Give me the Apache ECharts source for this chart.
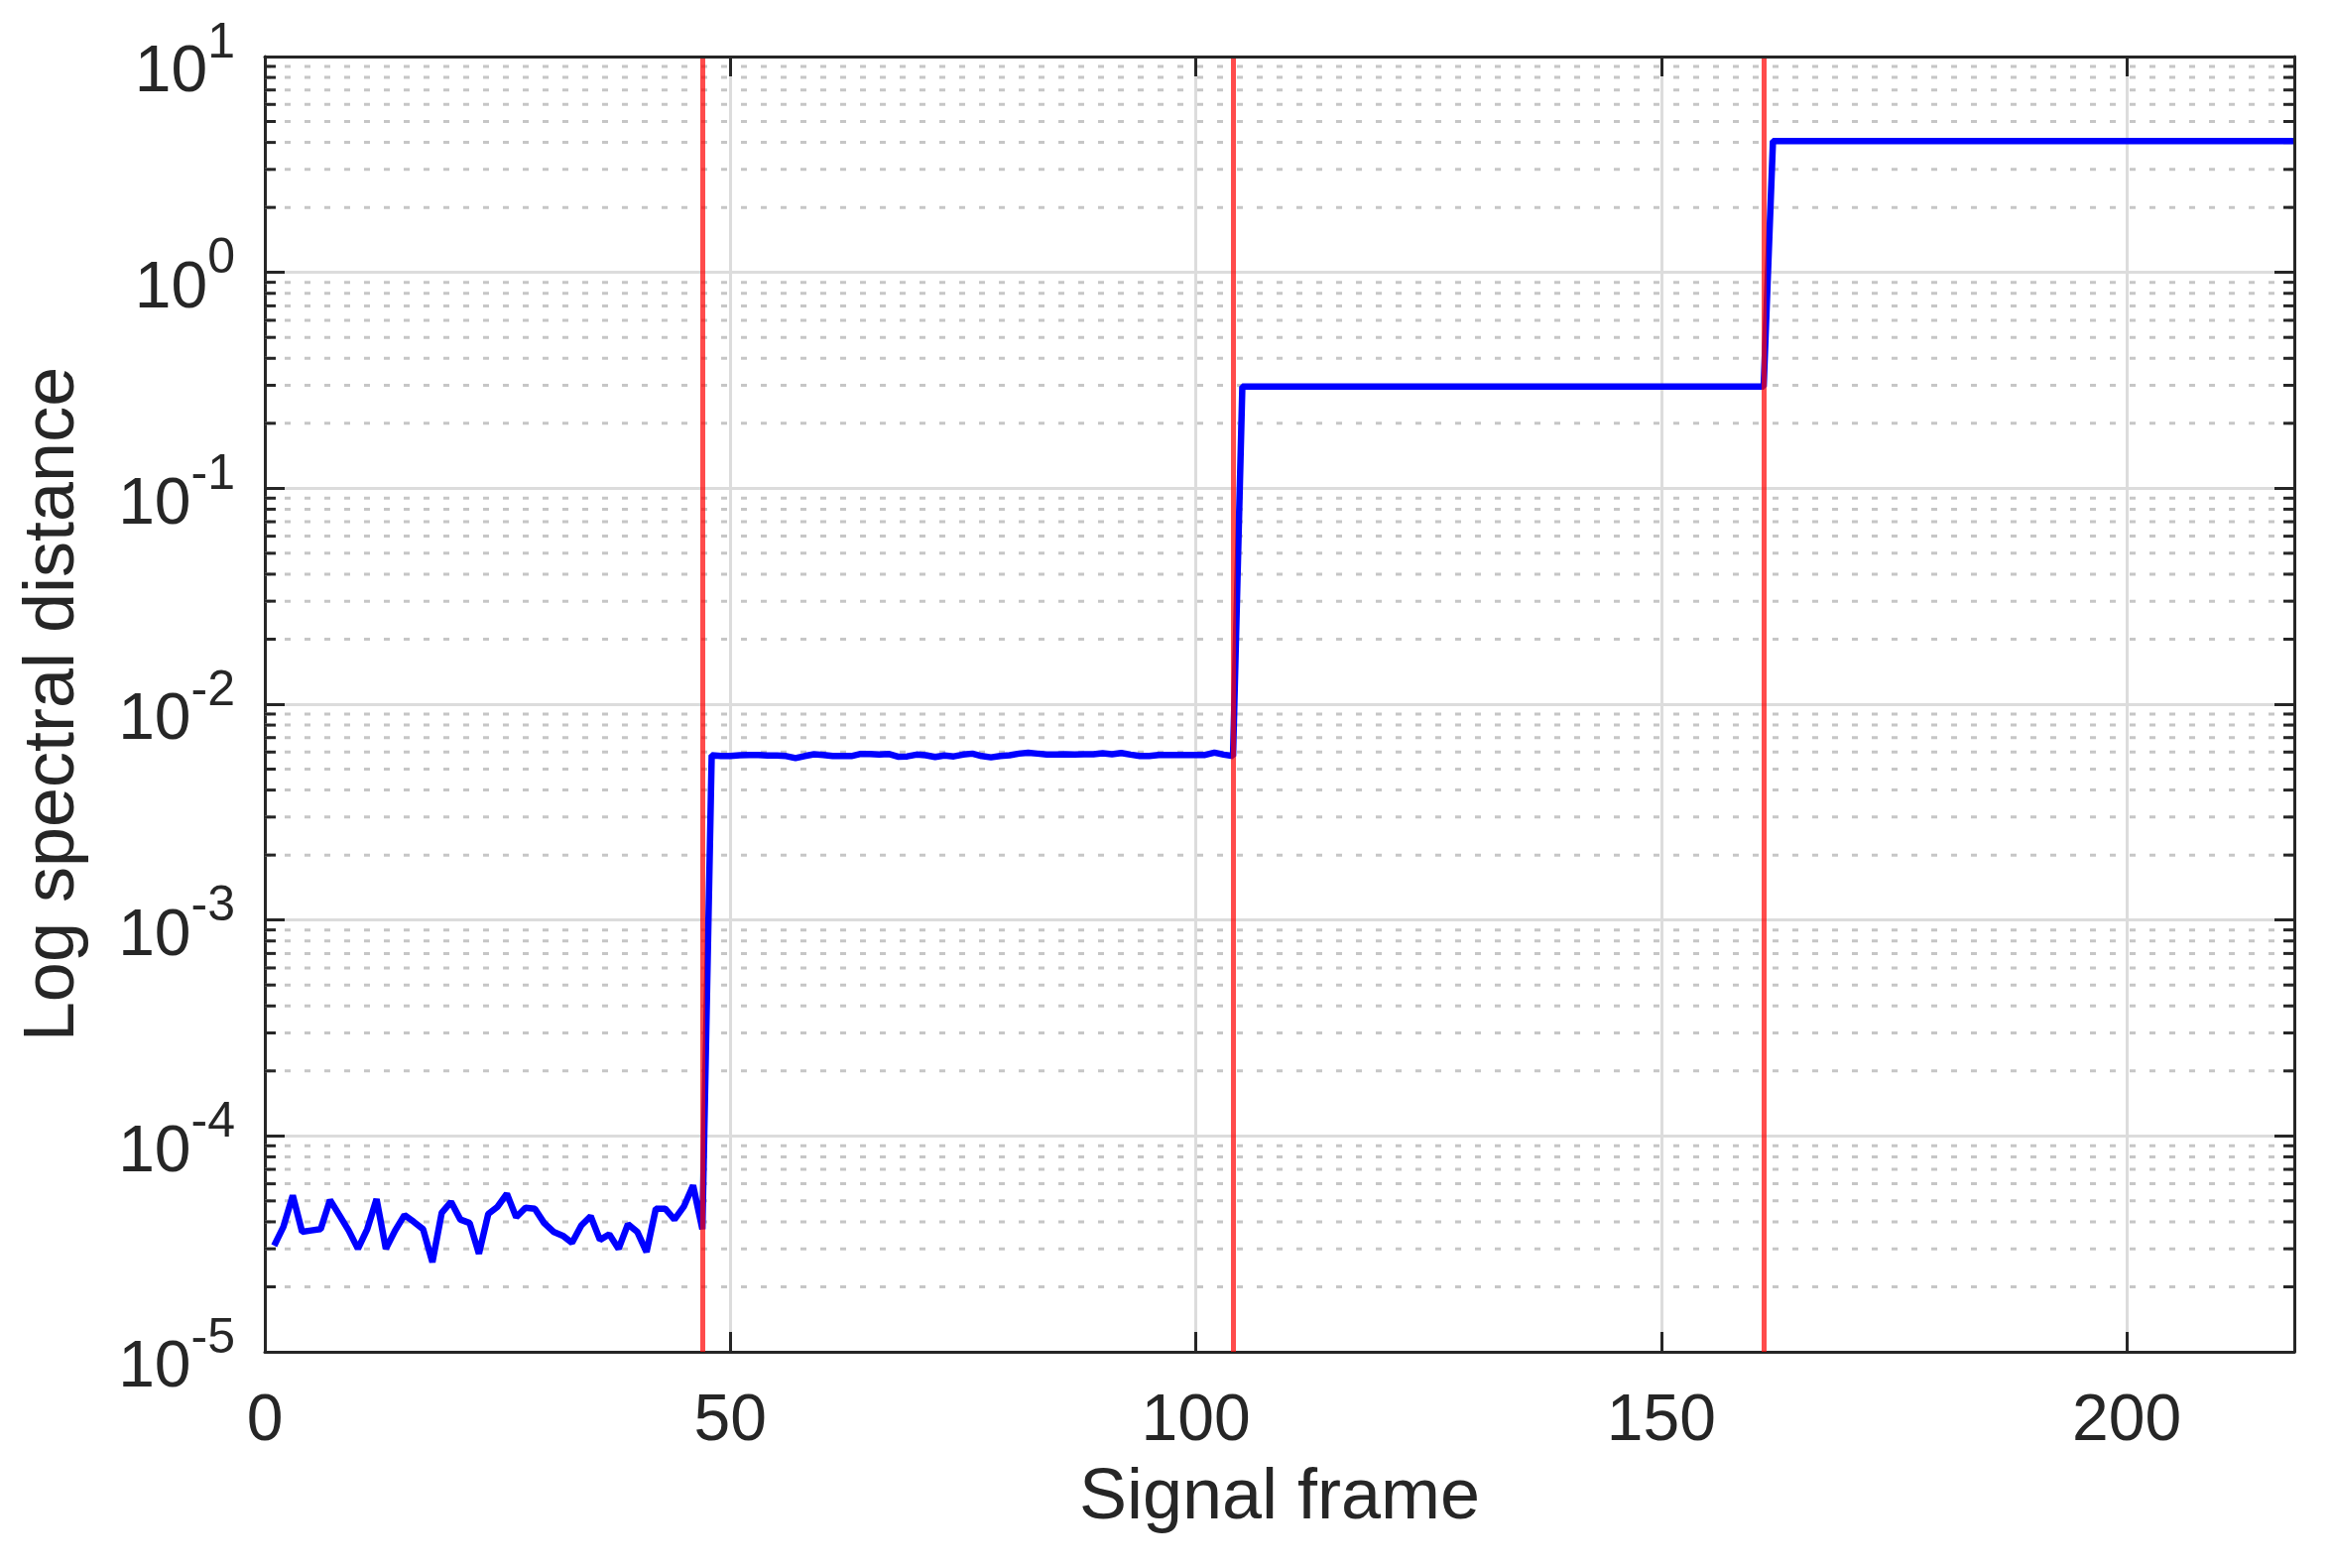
<!DOCTYPE html>
<html>
<head>
<meta charset="utf-8">
<script src="https://cdn.jsdelivr.net/npm/echarts@6/dist/echarts.min.js"></script>
<style>
html,body{margin:0;padding:0;background:#ffffff;}
#chart{width:2350px;height:1581px;}
</style>
</head>
<body>
<div id="chart"></div>
<script>
// ---------------- data ----------------
const firstFrame = 1;
// frames 1..47 (noise floor before first change)
const segNoise = [3.1e-5, 3.8e-5, 5.3e-5, 3.6e-5, 3.65e-5, 3.7e-5, 5.05e-5, 4.3e-5, 3.65e-5, 3.0e-5,
  3.7e-5, 5.1e-5, 3.0e-5, 3.65e-5, 4.3e-5, 4.0e-5, 3.7e-5, 2.6e-5, 4.4e-5, 4.95e-5,
  4.1e-5, 3.95e-5, 2.85e-5, 4.35e-5, 4.7e-5, 5.4e-5, 4.2e-5, 4.65e-5, 4.6e-5, 3.95e-5,
  3.6e-5, 3.45e-5, 3.2e-5, 3.85e-5, 4.25e-5, 3.3e-5, 3.5e-5, 3.0e-5, 3.9e-5, 3.6e-5,
  2.9e-5, 4.6e-5, 4.6e-5, 4.1e-5, 4.7e-5, 5.9e-5, 3.7e-5];
// frames 48..104
const segMid = [5.80e-3, 5.75e-3, 5.75e-3, 5.80e-3, 5.82e-3, 5.82e-3, 5.78e-3, 5.78e-3, 5.75e-3, 5.63e-3,
  5.75e-3, 5.86e-3, 5.82e-3, 5.75e-3, 5.75e-3, 5.75e-3, 5.88e-3, 5.88e-3, 5.84e-3, 5.88e-3,
  5.71e-3, 5.73e-3, 5.84e-3, 5.80e-3, 5.69e-3, 5.78e-3, 5.73e-3, 5.84e-3, 5.90e-3, 5.75e-3,
  5.67e-3, 5.75e-3, 5.80e-3, 5.90e-3, 5.96e-3, 5.90e-3, 5.84e-3, 5.84e-3, 5.86e-3, 5.84e-3,
  5.86e-3, 5.86e-3, 5.92e-3, 5.86e-3, 5.94e-3, 5.84e-3, 5.75e-3, 5.75e-3, 5.82e-3, 5.82e-3,
  5.82e-3, 5.82e-3, 5.82e-3, 5.82e-3, 5.96e-3, 5.84e-3, 5.75e-3];
// frames 105..161
const segHigh = [0.296, 0.296, 0.296, 0.296, 0.296, 0.296, 0.296, 0.296, 0.296, 0.296,
  0.296, 0.296, 0.296, 0.296, 0.296, 0.296, 0.296, 0.296, 0.296, 0.296,
  0.296, 0.296, 0.296, 0.296, 0.296, 0.296, 0.296, 0.296, 0.296, 0.296,
  0.296, 0.296, 0.296, 0.296, 0.296, 0.296, 0.296, 0.296, 0.296, 0.296,
  0.296, 0.296, 0.296, 0.296, 0.296, 0.296, 0.296, 0.296, 0.296, 0.296,
  0.296, 0.296, 0.296, 0.296, 0.296, 0.296, 0.296];
// frames 162..218
const segTop = [4.06, 4.06, 4.06, 4.06, 4.06, 4.06, 4.06, 4.06, 4.06, 4.06,
  4.06, 4.06, 4.06, 4.06, 4.06, 4.06, 4.06, 4.06, 4.06, 4.06,
  4.06, 4.06, 4.06, 4.06, 4.06, 4.06, 4.06, 4.06, 4.06, 4.06,
  4.06, 4.06, 4.06, 4.06, 4.06, 4.06, 4.06, 4.06, 4.06, 4.06,
  4.06, 4.06, 4.06, 4.06, 4.06, 4.06, 4.06, 4.06, 4.06, 4.06,
  4.06, 4.06, 4.06, 4.06, 4.06, 4.06, 4.06];
const changeFrames = [47, 104, 161];
const xTicks = [0, 50, 100, 150, 200];
const xMax = 218;
const yExponents = [-5, -4, -3, -2, -1, 0, 1];
const yMinorMultipliers = [2, 3, 4, 5, 6, 7, 8, 9];

// ---------------- build ----------------
const values = segNoise.concat(segMid, segHigh, segTop);
const lineData = values.map((v, i) => [firstFrame + i, v]);
const yMin = Math.pow(10, yExponents[0]);
const yMax = Math.pow(10, yExponents[yExponents.length - 1]);
const minorValues = [];
for (let k = 0; k < yExponents.length - 1; k++) {
  const base = Math.pow(10, yExponents[k]);
  yMinorMultipliers.forEach(m => minorValues.push([0, m * base]));
}

const FONT = 'Liberation Sans, Arial, Helvetica, sans-serif';
const TXT = '#262626';
const AX = '#262626';
const tickInterval = xTicks[1] - xTicks[0];

const chart = echarts.init(document.getElementById('chart'), null, {renderer: 'canvas'});
chart.setOption({
  animation: false,
  backgroundColor: '#ffffff',
  grid: {left: 267, right: 37, top: 57, bottom: 218, containLabel: false},
  xAxis: [{
    type: 'value', min: xTicks[0], max: xMax, interval: tickInterval,
    name: 'Signal frame', nameLocation: 'middle', nameGap: 112,
    nameTextStyle: {fontSize: 72, color: TXT, fontFamily: FONT},
    axisLine: {show: true, onZero: false, lineStyle: {color: AX, width: 3}},
    axisTick: {show: true, inside: true, length: 20, lineStyle: {color: AX, width: 3}},
    axisLabel: {show: true, margin: 38, fontSize: 66, color: TXT, fontFamily: FONT,
      formatter: v => (xTicks.indexOf(v) >= 0 ? String(v) : '')},
    splitLine: {show: true, lineStyle: {color: '#dcdcdc', width: 3}}
  }, {
    type: 'value', position: 'top', min: xTicks[0], max: xMax, interval: tickInterval, z: 10,
    axisLine: {show: true, onZero: false, lineStyle: {color: AX, width: 3}},
    axisTick: {show: true, inside: true, length: 20, lineStyle: {color: AX, width: 3}},
    axisLabel: {show: false}, splitLine: {show: false}
  }],
  yAxis: [{
    type: 'log', logBase: 10, min: yMin, max: yMax,
    name: 'Log spectral distance', nameLocation: 'middle', nameGap: 177, nameRotate: 90,
    nameTextStyle: {fontSize: 72, color: TXT, fontFamily: FONT},
    axisLine: {show: true, onZero: false, lineStyle: {color: AX, width: 3}},
    axisTick: {show: true, inside: true, length: 20, lineStyle: {color: AX, width: 3}},
    axisLabel: {show: true, margin: 30, color: TXT, fontFamily: FONT,
      formatter: v => '{b|10}{s|' + Math.round(Math.log10(v)) + '}',
      rich: {
        b: {fontSize: 66, lineHeight: 66, padding: [34, 0, 0, 0], color: TXT, fontFamily: FONT},
        s: {fontSize: 50, lineHeight: 50, padding: [12, 0, 38, 0], color: TXT, fontFamily: FONT}
      }},
    splitLine: {show: true, lineStyle: {color: '#dcdcdc', width: 3}},
    minorTick: {show: false}, minorSplitLine: {show: false}
  }, {
    type: 'log', logBase: 10, min: yMin, max: yMax, position: 'right', z: 10,
    axisLine: {show: true, onZero: false, lineStyle: {color: AX, width: 3}},
    axisTick: {show: true, inside: true, length: 20, lineStyle: {color: AX, width: 3}},
    axisLabel: {show: false}, splitLine: {show: false}
  }],
  series: [{
    type: 'custom', silent: true, z: 1,
    xAxisIndex: 0, yAxisIndex: 0,
    data: minorValues,
    encode: {x: 0, y: 1},
    renderItem: function (params, api) {
      const cs = params.coordSys;
      const p = api.coord([0, api.value(1)]);
      const y = p[1];
      return {
        type: 'group',
        children: [
          {type: 'line', shape: {x1: cs.x, y1: y, x2: cs.x + cs.width, y2: y},
            style: {stroke: '#c6c6c6', lineWidth: 3, lineDash: [6, 14]}},
          {type: 'line', shape: {x1: cs.x, y1: y, x2: cs.x + 11, y2: y},
            style: {stroke: AX, lineWidth: 3}},
          {type: 'line', shape: {x1: cs.x + cs.width - 11, y1: y, x2: cs.x + cs.width, y2: y},
            style: {stroke: AX, lineWidth: 3}}
        ]
      };
    }
  }, {
    type: 'line', z: 3, xAxisIndex: 0, yAxisIndex: 0,
    data: lineData, showSymbol: false, symbol: 'none', silent: true,
    lineStyle: {color: '#0000ff', width: 6.5}, emphasis: {disabled: true}
  }, {
    type: 'line', z: 4, xAxisIndex: 0, yAxisIndex: 0, data: [], silent: true,
    markLine: {
      symbol: ['none', 'none'], silent: true, animation: false,
      label: {show: false}, emphasis: {disabled: true},
      lineStyle: {color: 'rgba(255,0,0,0.7)', width: 5, type: 'solid'},
      data: changeFrames.map(f => ({xAxis: f}))
    }
  }]
});
</script>
</body>
</html>
